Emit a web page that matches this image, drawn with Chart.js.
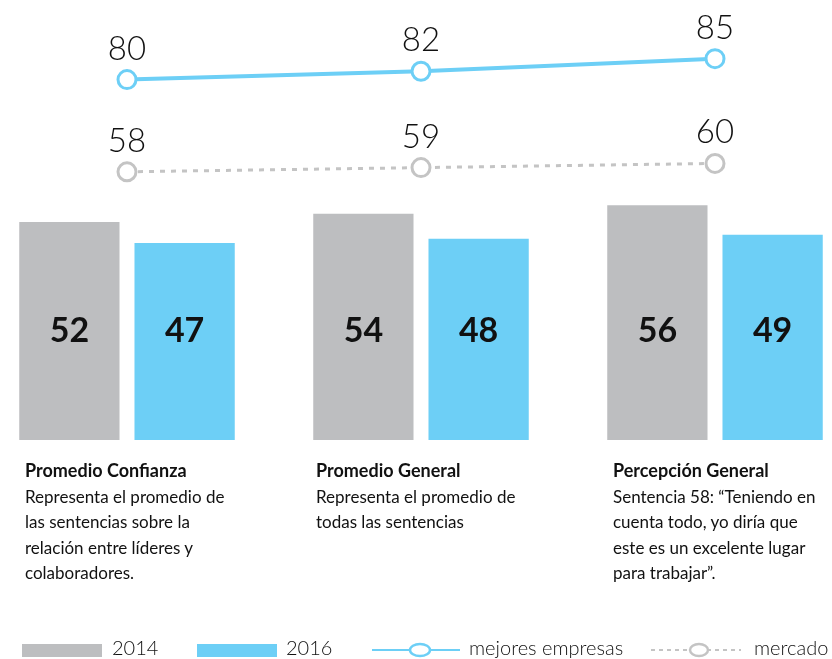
<!DOCTYPE html>
<html>
<head>
<meta charset="utf-8">
<script src="https://cdn.jsdelivr.net/npm/chart.js@4"></script>
<style>
	body { margin: 0; background: #fff; font-family: Lato, sans-serif; color: #111; }
	#wrap { position: relative; width: 832px; height: 659px; }
	#graf { position: absolute; left: 0; top: 0; }
	.desc { position: absolute; top: 458px; font-size: 17px; line-height: 25.5px; }
	.desc b { font-weight: 700; font-size: 18px; }
	#leyenda { position: absolute; top: 634px; left: 0; width: 832px; height: 28px; font-size: 20px; font-weight: 300; }
	#leyenda span, #leyenda div, #leyenda svg { position: absolute; }
</style>
</head>
<body>
<div id="wrap">
	<canvas id="graf" width="832" height="659"></canvas>

	<div class="desc" style="left:25px"><b>Promedio Confianza</b><br>Representa el promedio de<br>las sentencias sobre la<br>relación entre líderes y<br>colaboradores.</div>
	<div class="desc" style="left:316px"><b>Promedio General</b><br>Representa el promedio de<br>todas las sentencias</div>
	<div class="desc" style="left:613px"><b>Percepción General</b><br>Sentencia 58: “Teniendo en<br>cuenta todo, yo diría que<br>este es un excelente lugar<br>para trabajar”.</div>

	<div id="leyenda">
		<div style="left:22px;top:10px;width:80px;height:13px;background:#bdbec0"></div>
		<span style="left:112px;top:1px">2014</span>
		<div style="left:197px;top:10px;width:80px;height:13px;background:#6dcff6"></div>
		<span style="left:286px;top:1px">2016</span>
		<svg style="left:372px;top:6px" width="88" height="20">
			<line x1="0" y1="10" x2="88" y2="10" stroke="#6dcff6" stroke-width="2"/>
			<ellipse cx="48" cy="10" rx="10" ry="6" fill="#fff" stroke="#6dcff6" stroke-width="2.5"/>
		</svg>
		<span style="left:469px;top:1px">mejores empresas</span>
		<svg style="left:651px;top:6px" width="90" height="20">
			<line x1="0" y1="10" x2="90" y2="10" stroke="#c4c4c4" stroke-width="2" stroke-dasharray="4,4"/>
			<ellipse cx="48" cy="10" rx="9" ry="6" fill="#fff" stroke="#c4c4c4" stroke-width="2.5"/>
		</svg>
		<span style="left:754px;top:1px">mercado</span>
	</div>
</div>

<script>
var categorias = ["Promedio Confianza", "Promedio General", "Percepción General"];
var valores2014 = [52, 54, 56];
var valores2016 = [47, 48, 49];
var mejoresEmpresas = [80, 82, 85];
var mercado = [58, 59, 60];

// etiquetas: numeros dentro de las barras y encima de los puntos
var etiquetas = {
	id: "etiquetas",
	afterDatasetsDraw: function(chart) {
		var ctx = chart.ctx;
		ctx.save();
		ctx.fillStyle = "#111";
		ctx.textAlign = "center";
		chart.data.datasets.forEach(function(ds, i) {
			var meta = chart.getDatasetMeta(i);
			meta.data.forEach(function(el, j) {
				if (ds.type === "line") {
					ctx.font = "300 33px Lato";
					ctx.textBaseline = "alphabetic";
					ctx.fillText(ds.data[j], el.x, el.y - 20);
				} else {
					ctx.font = "bold 34px Lato";
					ctx.textBaseline = "middle";
					ctx.fillText(ds.data[j], el.x, chart.scales.y.getPixelForValue(26));
				}
			});
		});
		ctx.restore();
	}
};

var chartdata = {
	labels: categorias,
	datasets: [
		{
			type: "line",
			label: "mejores empresas",
			yAxisID: "y2",
			data: mejoresEmpresas,
			borderColor: "#6dcff6",
			borderWidth: 4,
			pointRadius: 9,
			pointBorderWidth: 3,
			pointBackgroundColor: "#fff",
			pointBorderColor: "#6dcff6",
			clip: false
		},
		{
			type: "line",
			label: "mercado",
			yAxisID: "y2",
			data: mercado,
			borderColor: "#c4c4c4",
			borderWidth: 3,
			borderDash: [5, 6],
			pointRadius: 9,
			pointBorderWidth: 3,
			pointBackgroundColor: "#fff",
			pointBorderColor: "#c4c4c4",
			clip: false
		},
		{
			label: "2014",
			data: valores2014,
			backgroundColor: "#bdbec0",
			categoryPercentage: 0.784,
			barPercentage: 0.87,
			clip: false
		},
		{
			label: "2016",
			data: valores2016,
			backgroundColor: "#6dcff6",
			categoryPercentage: 0.784,
			barPercentage: 0.87,
			clip: false
		}
	]
};

var ctx = document.getElementById("graf");

var grafico = new Chart(ctx, {
	type: "bar",
	data: chartdata,
	options: {
		responsive: false,
		animation: false,
		layout: { autoPadding: false, padding: { left: 127, right: 117, top: 0, bottom: 219 } },
		plugins: { legend: { display: false }, tooltip: { enabled: false } },
		scales: {
			x: { display: false, offset: false },
			y: { display: false, min: 0, max: 105 },
			y2: { display: false, min: -6, max: 99 }
		}
	},
	plugins: [etiquetas]
});
</script>
</body>
</html>
